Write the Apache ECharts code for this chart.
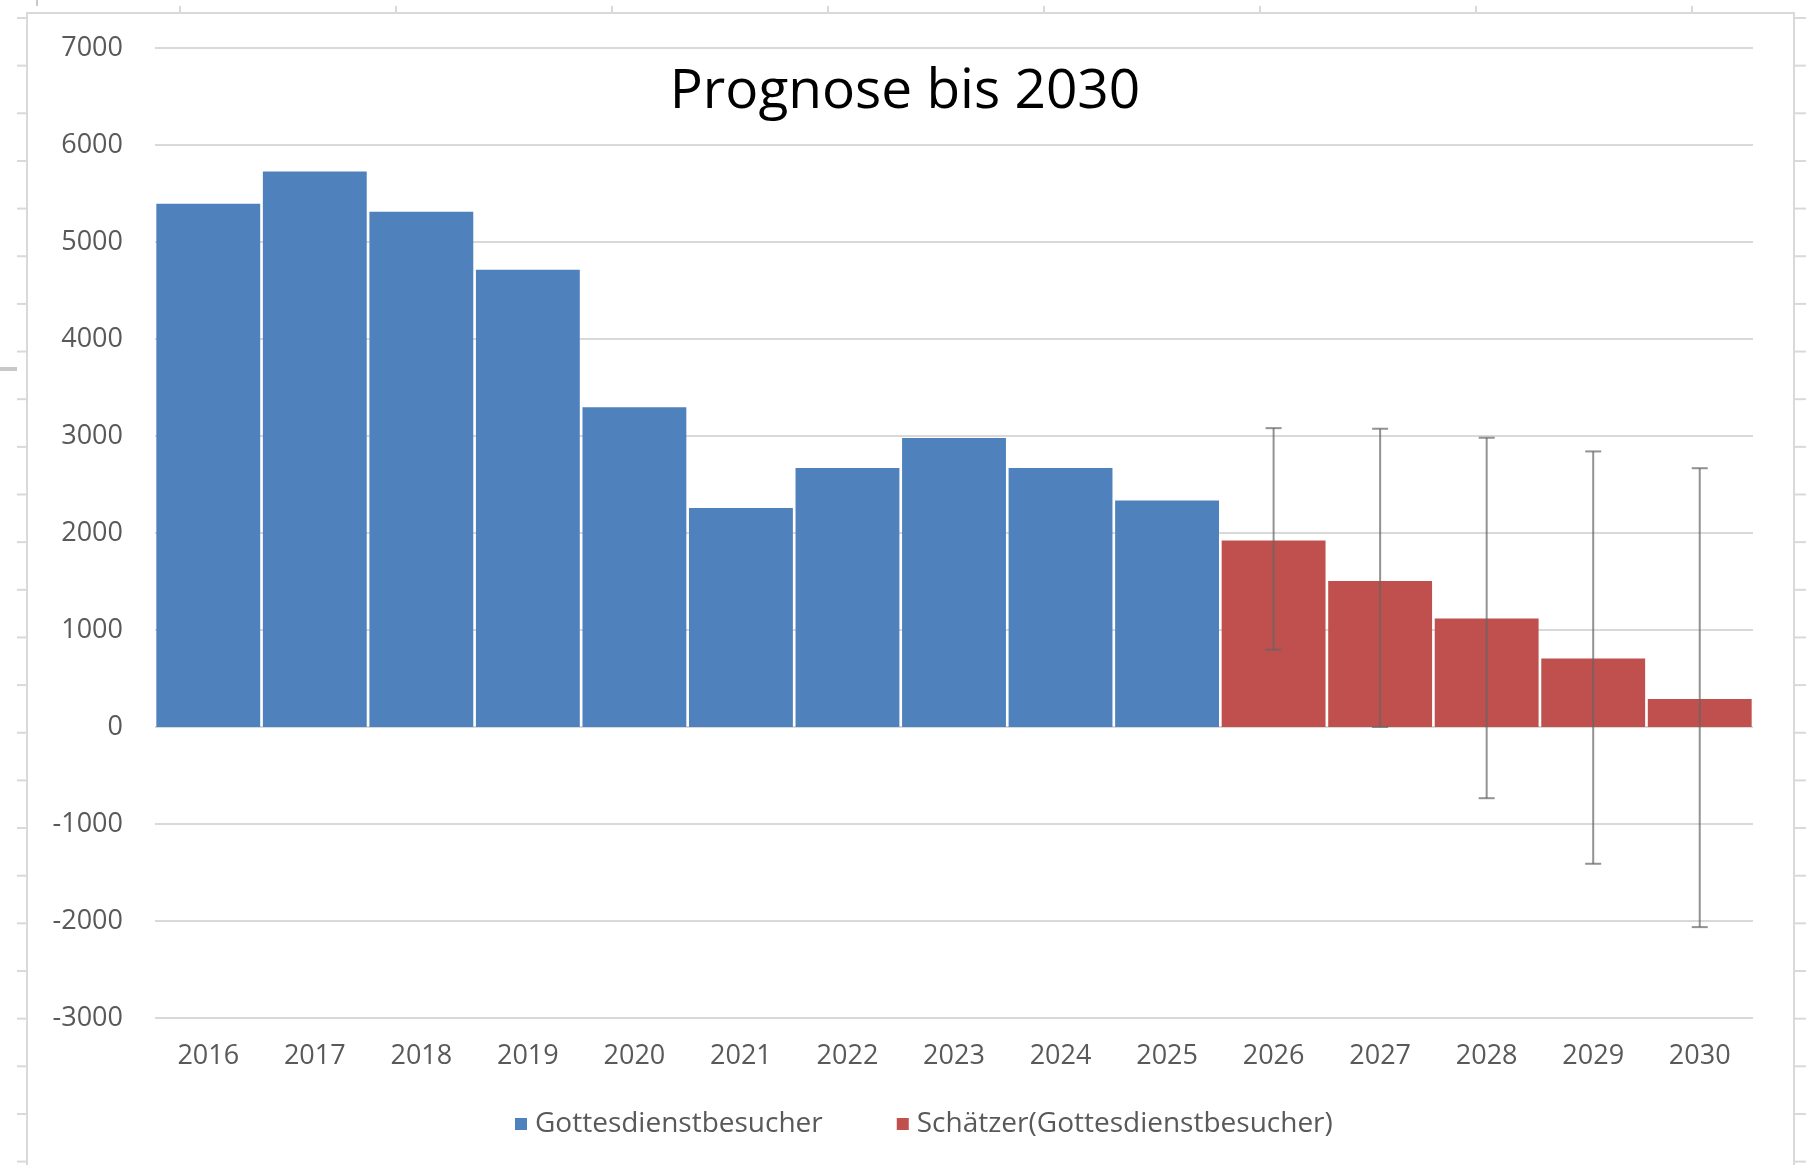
<!DOCTYPE html>
<html>
<head>
<meta charset="utf-8">
<title>Prognose bis 2030</title>
<script src="https://cdn.jsdelivr.net/npm/echarts@6/dist/echarts.min.js"></script>
<style>
  html, body { margin: 0; padding: 0; background: #fff; }
  #chart { width: 1810px; height: 1165px; }
</style>
</head>
<body>
<div id="chart"></div>
<script>
// Jahre (Kategorien)
const years = ['2016', '2017', '2018', '2019', '2020', '2021', '2022', '2023',
  '2024', '2025', '2026', '2027', '2028', '2029', '2030'];

// gemessene Besucher 2016-2025
const besucher = [5395, 5728, 5312, 4715, 3296, 2258, 2670, 2979, 2670, 2336,
  null, null, null, null, null];

// Schätzer 2026-2030
const schaetzer = [null, null, null, null, null, null, null, null, null, null,
  1922, 1505, 1118, 705, 288];

// Fehlerbalken der Schätzung (unten / oben)
const errYears = ['2026', '2027', '2028', '2029', '2030'];
const errLow = [797, 0, -734, -1410, -2063];
const errHigh = [3081, 3075, 2982, 2841, 2668];

const labelColor = '#595959';
const gridColor = '#d9d9d9';

// Rahmen + Tabellen-Striche rund um das Diagramm (Screenshot aus Excel)
const deco = [];
deco.push({
  type: 'rect',
  shape: { x: 27, y: 13, width: 1767, height: 1200 },
  style: { fill: null, stroke: gridColor, lineWidth: 2 },
  silent: true,
});
for (let y = 18; y < 1165; y += 47.65) {
  deco.push({ type: 'line', shape: { x1: 17, y1: y, x2: 27, y2: y },
    style: { stroke: gridColor, lineWidth: 2 }, silent: true });
  deco.push({ type: 'line', shape: { x1: 1794, y1: y, x2: 1806, y2: y },
    style: { stroke: gridColor, lineWidth: 2 }, silent: true });
}
for (let x = 180; x < 1800; x += 216) {
  deco.push({ type: 'line', shape: { x1: x, y1: 6, x2: x, y2: 13 },
    style: { stroke: gridColor, lineWidth: 2 }, silent: true });
}
deco.push({ type: 'line', shape: { x1: 0, y1: 369, x2: 17, y2: 369 },
  style: { stroke: '#c8c8c8', lineWidth: 4 }, silent: true });
deco.push({ type: 'line', shape: { x1: 37, y1: 0, x2: 37, y2: 6 },
  style: { stroke: '#c8c8c8', lineWidth: 2 }, silent: true });

const chart = echarts.init(document.getElementById('chart'));

const option = {
  animation: false,
  backgroundColor: '#fff',
  title: {
    text: 'Prognose bis 2030',
    left: 'center',
    top: 60,
    textStyle: {
      fontFamily: 'Open Sans',
      fontSize: 55,
      fontWeight: 'normal',
      color: '#000',
    },
  },
  legend: {
    data: ['Gottesdienstbesucher', 'Schätzer(Gottesdienstbesucher)'],
    left: 510,
    top: 1105,
    icon: 'rect',
    itemWidth: 12,
    itemHeight: 12,
    itemGap: 74,
    textStyle: { fontFamily: 'Open Sans', fontSize: 28, color: labelColor, padding: [0, 0, 0, 3] },
  },
  grid: { left: 155, right: 57, top: 48, bottom: 147 },
  xAxis: {
    type: 'category',
    data: years,
    axisLine: { show: false },
    axisTick: { show: false },
    axisLabel: {
      margin: 25,
      fontFamily: 'Open Sans',
      fontSize: 27,
      color: labelColor,
    },
  },
  yAxis: {
    type: 'value',
    min: -3000,
    max: 7000,
    interval: 1000,
    axisLine: { show: false },
    axisTick: { show: false },
    axisLabel: {
      margin: 32,
      fontFamily: 'Open Sans',
      fontSize: 27,
      color: labelColor,
      formatter: (v) => String(v),
    },
    splitLine: { lineStyle: { color: gridColor, width: 2 } },
  },
  series: [
    {
      name: 'Gottesdienstbesucher',
      type: 'bar',
      data: besucher,
      barGap: '-100%',
      barCategoryGap: '2.5%',
      itemStyle: { color: '#4f81bd' },
    },
    {
      name: 'Schätzer(Gottesdienstbesucher)',
      type: 'bar',
      data: schaetzer,
      barGap: '-100%',
      barCategoryGap: '2.5%',
      itemStyle: { color: '#c0504d' },
    },
    {
      name: 'Fehler',
      type: 'custom',
      z: 5,
      data: errYears.map((y, i) => [y, errLow[i], errHigh[i]]),
      encode: { x: 0, y: [1, 2] },
      renderItem: (params, api) => {
        const lo = api.coord([api.value(0), api.value(1)]);
        const hi = api.coord([api.value(0), api.value(2)]);
        const half = 8;
        const style = { stroke: 'rgba(100,100,100,0.7)', lineWidth: 2 };
        return {
          type: 'group',
          children: [
            { type: 'line', shape: { x1: hi[0], y1: hi[1], x2: lo[0], y2: lo[1] }, style },
            { type: 'line', shape: { x1: hi[0] - half, y1: hi[1], x2: hi[0] + half, y2: hi[1] }, style },
            { type: 'line', shape: { x1: lo[0] - half, y1: lo[1], x2: lo[0] + half, y2: lo[1] }, style },
          ],
        };
      },
    },
  ],
  graphic: deco,
};

chart.setOption(option);
</script>
</body>
</html>
